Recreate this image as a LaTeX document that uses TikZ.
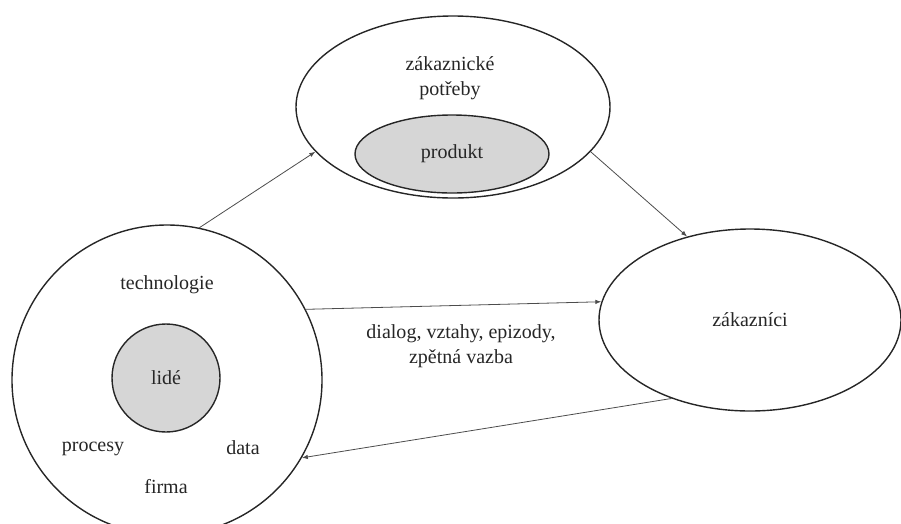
\documentclass[tikz,border=0pt]{standalone}
\usepackage{fontspec}
\setmainfont{Liberation Serif}
\usetikzlibrary{shapes.geometric,arrows.meta}

\begin{document}
\begin{tikzpicture}[
  x=1pt, y=-1pt,
  every node/.style={font=\fontsize{20}{25}\selectfont, text=black!85},
  shell/.style={draw=black!85, line width=1.4pt, inner sep=0pt},
  core/.style={shell, fill=black!16},
  link/.style={draw=black!70, line width=0.8pt, -{Latex[length=6pt,width=4.5pt]}}
]
\useasboundingbox (0,0) rectangle (901,523);
\clip (0,0) rectangle (901,523);

\node[shell, circle, minimum size=310pt] (firma) at (167,380) {};
\node[core, circle, minimum size=108pt] (lide) at (166,378) {lidé};
\node (technologie) at (167,285) {technologie};
\node (procesy) at (93,449) {procesy};
\node (data) at (243,448) {data};
\node (firmatext) at (166,487) {firma};

\node[shell, ellipse, minimum width=314pt, minimum height=182pt] (potreby) at (453,107) {};
\node[align=center] (potrebytext) at (450,78) {zákaznické\\potřeby};
\node[core, ellipse, minimum width=194pt, minimum height=78pt] (produkt) at (452,154) {produkt};

\node[shell, ellipse, minimum width=302pt, minimum height=182pt] (zakaznici) at (750,320) {zákazníci};

\node[align=center] (dialog) at (461,346) {dialog, vztahy, epizody,\\zpětná vazba};

\draw[link] (firma.78) -- (potreby.198);
\draw[link] (potreby.-18) -- (zakaznici.127);
\draw[link] (firma.27) -- (zakaznici.173);
\draw[link] (zakaznici.225) -- (firma.-30);
\end{tikzpicture}
\end{document}
